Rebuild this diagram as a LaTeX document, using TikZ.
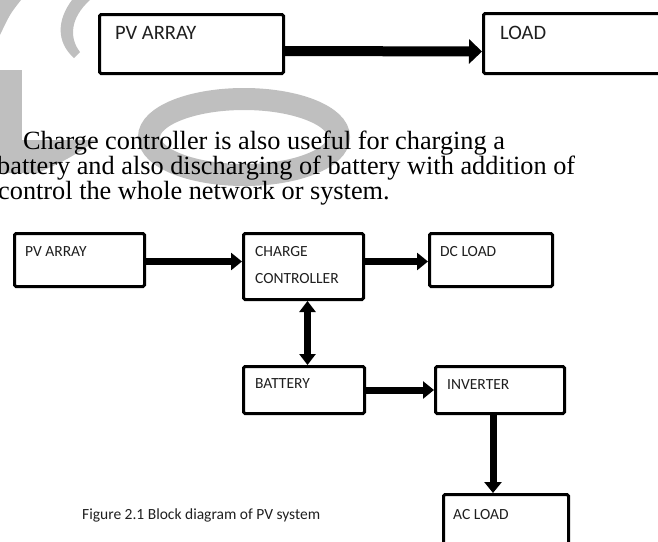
\documentclass[tikz,border=0pt]{standalone}
\usepackage{fontspec}
\setmainfont{Liberation Serif}
\newfontfamily\calfont{Carlito}
\usetikzlibrary{positioning,arrows.meta,calc}

\tikzset{
  blk/.style={draw,line width=3pt,fill=white,rounded corners=1.5pt,anchor=north west,inner sep=0pt},
  lbl/.style={anchor=west,inner sep=0pt,text=black!88,font=\calfont\fontsize{15.5}{18}\selectfont},
  biglbl/.style={lbl,font=\calfont\fontsize{20.5}{24}\selectfont},
  txt/.style={anchor=base west,inner sep=0pt,font=\fontsize{26.3}{30}\selectfont},
  fatarr/.style={line width=10pt,-{Triangle[width=24pt,length=13pt]}},
  arr/.style={line width=7pt,-{Triangle[width=17pt,length=11pt]}},
  dblarr/.style={line width=7pt,{Triangle[width=16pt,length=11pt]}-{Triangle[width=16pt,length=11pt]}},
  wm/.style={fill=black!25,draw=none}
}

\begin{document}
\begin{tikzpicture}[x=1pt,y=-1pt]
\useasboundingbox (0,0) rectangle (658,541);
\clip (0,0) rectangle (658,541);

% faint watermark behind everything
\fill[wm] (0,0) -- (21,0) .. controls (10,14) .. (0,35) -- cycle;
\fill[wm] (72,0) .. controls (57,20) and (56,42) .. (74,58) -- (80,52) .. controls (69,38) and (70,18) .. (90,0) -- cycle;
\fill[wm] (0,70) rectangle (22,140);
\fill[wm] (0,140) -- (97,140) .. controls (70,158) .. (38,173) -- (0,173) -- cycle;
\draw[black!25,line width=22pt] (244,137) ellipse [x radius=95pt, y radius=38pt];

% simple system
\node[blk,minimum width=184pt,minimum height=59pt] (pvtop) at (98,13) {};
\node[blk,minimum width=190pt,minimum height=60pt] (loadtop) at (482,12) {};
\node[biglbl] (pvtopt) at (115,33) {PV ARRAY};
\node[biglbl] (loadtopt) at (500,33) {LOAD};
\draw[fatarr] ($(pvtop.east)+(0,7)$) -- ($(loadtop.west)+(0,8)$);

% paragraph
\node[txt] (lineA) at (23,149) {Charge controller is also useful for charging a};
\node[txt] (lineB) at (-3,174) {battery and also discharging of battery with addition of};
\node[txt] (lineC) at (-2,199) {control the whole network or system.};

% block diagram
\node[blk,minimum width=130pt,minimum height=53pt] (pv) at (13,232) {};
\node[blk,minimum width=120pt,minimum height=66pt] (cc) at (242,232) {};
\node[blk,minimum width=123pt,minimum height=53pt] (dc) at (428,232) {};
\node[blk,minimum width=121pt,minimum height=47pt] (bat) at (242,365) {};
\node[blk,minimum width=129pt,minimum height=47pt] (inv) at (434,365) {};
\node[blk,minimum width=125pt,minimum height=60pt] (ac) at (442,493) {};

\node[lbl] (pvt) at (25,252) {PV ARRAY};
\node[lbl] (cct) at (255,252) {CHARGE};
\node[lbl] (cct2) at (255,279) {CONTROLLER};
\node[lbl] (dct) at (440,252) {DC LOAD};
\node[lbl] (batt) at (255,384) {BATTERY};
\node[lbl] (invt) at (447,385) {INVERTER};
\node[lbl] (act) at (453,515) {AC LOAD};
\node[lbl] (caption) at (82,515) {Figure 2.1 Block diagram of PV system};

\path ($(pv.east)+(0,1.5)$) coordinate (pvout)
      ($(dc.west)+(0,1.5)$) coordinate (dcin)
      ($(cc.south)+(4,0)$) coordinate (ccout)
      ($(inv.south)+(-7,0)$) coordinate (invout);
\draw[arr] (pvout) -- (pvout -| cc.west);
\draw[arr] (dcin -| cc.east) -- (dcin);
\draw[dblarr] (ccout) -- (ccout |- bat.north);
\draw[arr] (bat.east) -- (inv.west);
\draw[arr] (invout) -- (invout |- ac.north);
\end{tikzpicture}
\end{document}
